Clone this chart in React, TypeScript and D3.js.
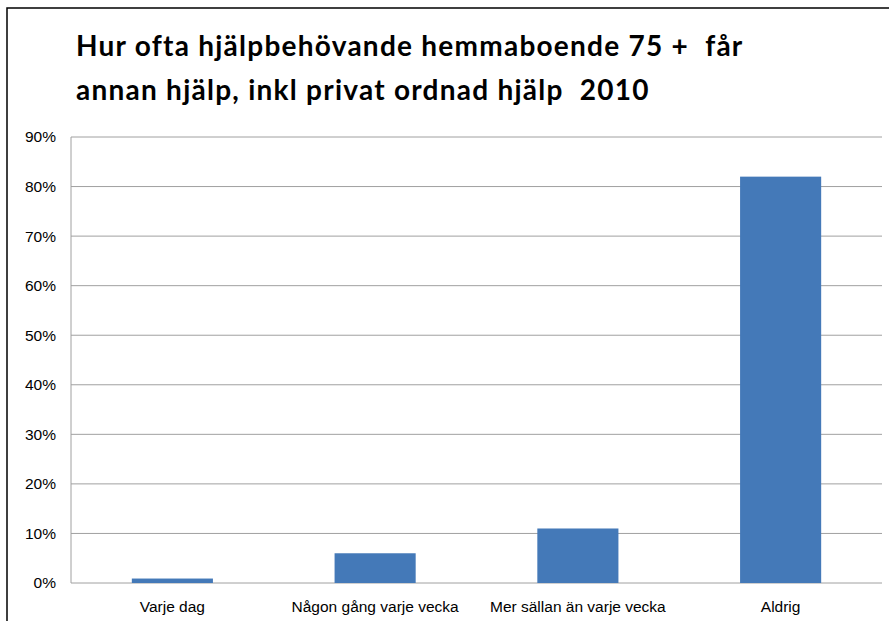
import React from 'react';
import * as d3 from 'd3';

const categories = ['Varje dag', 'Någon gång varje vecka', 'Mer sällan än varje vecka', 'Aldrig'];
const values = [0.009, 0.06, 0.11, 0.82];
const yTicks = [0, 0.1, 0.2, 0.3, 0.4, 0.5, 0.6, 0.7, 0.8, 0.9];
const titleLines = ['Hur ofta hjälpbehövande hemmaboende 75 +  får', 'annan hjälp, inkl privat ordnad hjälp  2010'];

const W = 889;
const H = 621;
const plot = { left: 71, right: 882, top: 137, bottom: 583 };

const App = () => {
  const x = d3.scaleBand<string>()
    .domain(categories)
    .range([plot.left, plot.right])
    .paddingInner(0.6)
    .paddingOuter(0.3);

  const y = d3.scaleLinear()
    .domain([0, 0.9])
    .range([plot.bottom, plot.top]);

  const fmt = d3.format('.0%');

  return (
    <svg width={W} height={H} style={{ position: 'absolute', left: 0, top: 0 }}>
      <rect x={0} y={0} width={W} height={H} fill="#fff" />
      <rect x={7} y={8} width={W + 10} height={H + 10} fill="none" stroke="#000" strokeWidth={1.5} />

      {titleLines.map((t, i) => (
        <text key={i} x={76} y={56 + i * 44} fontFamily="Lato, 'Open Sans', sans-serif" fontWeight="bold"
          fontSize={28} letterSpacing={1.25} fill="#000" style={{ whiteSpace: 'pre' }}>{t}</text>
      ))}

      {yTicks.map(t => (
        <g key={t}>
          <line x1={plot.left} x2={plot.right} y1={y(t)} y2={y(t)} stroke="#a0a0a0" strokeWidth={1} />
          <text x={56} y={y(t)} dy="0.35em" textAnchor="end" fontFamily="'Liberation Sans', Arial, sans-serif"
            fontSize={15.5} fill="#000">{fmt(t)}</text>
        </g>
      ))}
      <line x1={plot.left} x2={plot.left} y1={plot.top} y2={plot.bottom} stroke="#a0a0a0" strokeWidth={1} />

      {categories.map((c, i) => (
        <rect key={c} x={x(c)} y={y(values[i])} width={x.bandwidth()} height={plot.bottom - y(values[i])}
          fill="#4479b8" />
      ))}

      {categories.map(c => (
        <text key={c} x={(x(c) ?? 0) + x.bandwidth() / 2} y={612} textAnchor="middle"
          fontFamily="'Liberation Sans', Arial, sans-serif" fontSize={15.5} fill="#000">{c}</text>
      ))}
    </svg>
  );
};

export default App;
